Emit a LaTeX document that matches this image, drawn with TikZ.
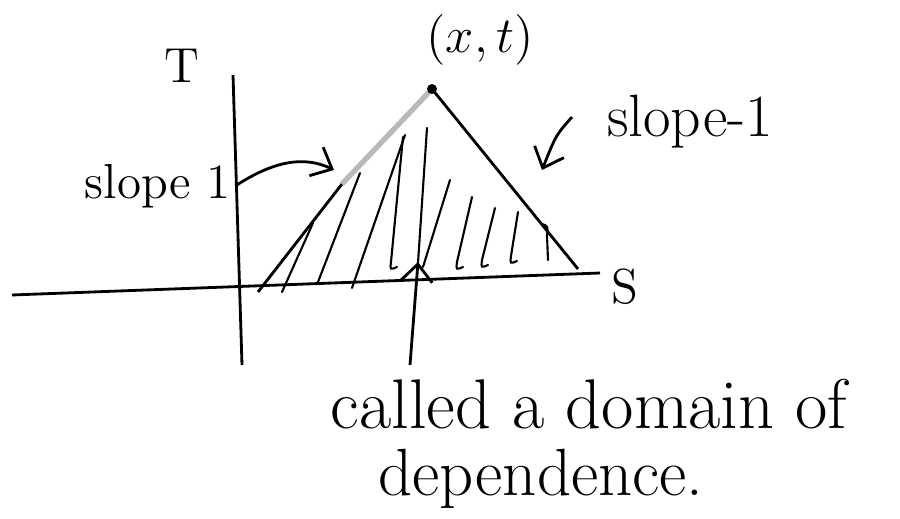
\documentclass[tikz,border=0pt]{standalone}
\usepackage{amsmath,amssymb}
\usepackage{tikz}
\usetikzlibrary{arrows.meta,positioning,calc}

\tikzset{
  axis/.style={thick},
  edge/.style={thick},
  hatch/.style={semithick, line cap=round},
  pointer/.style={thick, -{Straight Barb[length=5pt,width=9pt]}},
  label/.style={inner sep=1pt, font=\fontsize{14}{16}\selectfont},
  remark/.style={inner sep=0pt, anchor=base west, font=\fontsize{20}{24}\selectfont},
}

\begin{document}
\begin{tikzpicture}[x=0.01cm, y=-0.01cm]
					\useasboundingbox (0,0) rectangle (900,519);
					% axes
					\draw[axis] (12,295) -- (600,273) coordinate (sEnd);
					\draw[axis] (233,75) -- (242,365);
					\node[label] (tLabel) at (182,66) {T};
					\node[label, right=2pt of sEnd, yshift=-4pt] (sLabel) {S};
					% domain of dependence
					\coordinate (apex) at (432,89);
					\coordinate (lBase) at (258,292);
					\coordinate (rBase) at (578,269);
					\draw[edge] (lBase) -- (342,184) coordinate (lMid);
					\draw[edge, gray!55, line width=1.5pt] (lMid) -- (apex);
					\draw[edge] (apex) -- (rBase);
					\fill (apex) circle (5);
					\node[label, font=\fontsize{15}{17}\selectfont] (point) at (480,40) {$(x,t)$};
					% hatching
					\foreach \xa/\ya/\xb/\yb in {282/292/313/223, 318/282/360/173,
						352/288/405/135, 418/263/427/128, 423/267/450/180}
						\draw[hatch] (\xa,\ya) -- (\xb,\yb);
					\foreach \xa/\ya/\xb/\yb in {403/137/391/262, 472/197/457/262,
						495/208/482/260, 518/212/511/256}
						\draw[hatch] (\xa,\ya) -- (\xb,\yb) .. controls (\xb-1,\yb+8) .. (\xb+6,\yb+5);
					\draw[hatch] (542,224) .. controls (548,226) .. (547,236) -- (548,260);
					% slopes
					\node[label, font=\fontsize{17}{19}\selectfont] (slopeR) at (690,122) {slope-1};
					\coordinate (rTip) at (542,170);
					\draw[pointer] (572,117) .. controls (556,135) .. (rTip);
					\node[label] (slopeL) at (158,186) {slope 1};
					\coordinate (lTip) at (334,170);
					\draw[pointer] (slopeL.east) .. controls (275,160) and (305,156) .. (lTip);
					% the shaded region
					\coordinate (noteFoot) at (410,365);
					\coordinate (noteTip) at (418,262);
					\draw[pointer] (noteFoot) -- (noteTip);
					\node[remark] (remarkA) at (330,429) {called a domain of};
					\node[remark, font=\fontsize{19}{22}\selectfont] (remarkB) at (378,496) {dependence.};
				\end{tikzpicture}
\end{document}
